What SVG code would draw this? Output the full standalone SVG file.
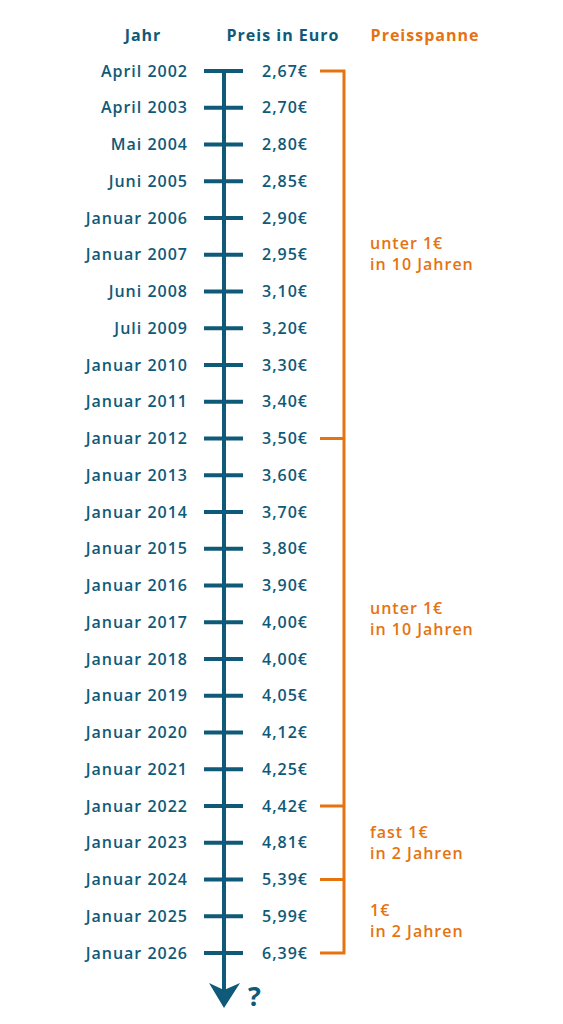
<svg xmlns="http://www.w3.org/2000/svg" width="563" height="1024" viewBox="0 0 563 1024">
<style>
text{font-family:"Open Sans","Noto Sans",sans-serif;font-size:16px;font-weight:600;letter-spacing:1px}
.t{fill:#0f5a78}
.o{fill:#e5730f}
.yr{text-anchor:end}
.h{font-weight:700}
.ax{stroke:#0f5a78;stroke-width:4;fill:none}
.br{stroke:#e5730f;stroke-width:3;fill:none}
</style>
<rect width="563" height="1024" fill="#ffffff"/>
<g id="headers">
<text class="t h" x="143" y="41" text-anchor="middle">Jahr</text>
<text class="t h" x="283" y="41" text-anchor="middle">Preis in Euro</text>
<text class="o h" x="425" y="41" text-anchor="middle">Preisspanne</text>
</g>
<g id="connectors">
<path class="ax" d="M224 71 V990"/>
<path d="M209 983 L224 1008 L240 983 L224 990 Z" fill="#0f5a78"/>
<g class="ax">
<path d="M204 71H243M204 107.75H243M204 144.5H243M204 181.25H243M204 218H243M204 254.75H243M204 291.5H243M204 328.25H243M204 365H243M204 401.75H243M204 438.5H243M204 475.25H243M204 512H243M204 548.75H243M204 585.5H243M204 622.25H243M204 659H243M204 695.75H243M204 732.5H243M204 769.25H243M204 806H243M204 842.75H243M204 879.5H243M204 916.25H243M204 953H243"/>
</g>
<path class="br" d="M320 71H344V953H320M320 438.5H344M320 806H344M320 879.5H344"/>
</g>
<g id="years">
<text class="t yr" x="188" y="76.5">April 2002</text>
<text class="t yr" x="188" y="113.25">April 2003</text>
<text class="t yr" x="188" y="150">Mai 2004</text>
<text class="t yr" x="188" y="186.75">Juni 2005</text>
<text class="t yr" x="188" y="223.5">Januar 2006</text>
<text class="t yr" x="188" y="260.25">Januar 2007</text>
<text class="t yr" x="188" y="297">Juni 2008</text>
<text class="t yr" x="188" y="333.75">Juli 2009</text>
<text class="t yr" x="188" y="370.5">Januar 2010</text>
<text class="t yr" x="188" y="407.25">Januar 2011</text>
<text class="t yr" x="188" y="444">Januar 2012</text>
<text class="t yr" x="188" y="480.75">Januar 2013</text>
<text class="t yr" x="188" y="517.5">Januar 2014</text>
<text class="t yr" x="188" y="554.25">Januar 2015</text>
<text class="t yr" x="188" y="591">Januar 2016</text>
<text class="t yr" x="188" y="627.75">Januar 2017</text>
<text class="t yr" x="188" y="664.5">Januar 2018</text>
<text class="t yr" x="188" y="701.25">Januar 2019</text>
<text class="t yr" x="188" y="738">Januar 2020</text>
<text class="t yr" x="188" y="774.75">Januar 2021</text>
<text class="t yr" x="188" y="811.5">Januar 2022</text>
<text class="t yr" x="188" y="848.25">Januar 2023</text>
<text class="t yr" x="188" y="885">Januar 2024</text>
<text class="t yr" x="188" y="921.75">Januar 2025</text>
<text class="t yr" x="188" y="958.5">Januar 2026</text>
</g>
<g id="prices">
<text class="t" x="262" y="76.5">2,67€</text>
<text class="t" x="262" y="113.25">2,70€</text>
<text class="t" x="262" y="150">2,80€</text>
<text class="t" x="262" y="186.75">2,85€</text>
<text class="t" x="262" y="223.5">2,90€</text>
<text class="t" x="262" y="260.25">2,95€</text>
<text class="t" x="262" y="297">3,10€</text>
<text class="t" x="262" y="333.75">3,20€</text>
<text class="t" x="262" y="370.5">3,30€</text>
<text class="t" x="262" y="407.25">3,40€</text>
<text class="t" x="262" y="444">3,50€</text>
<text class="t" x="262" y="480.75">3,60€</text>
<text class="t" x="262" y="517.5">3,70€</text>
<text class="t" x="262" y="554.25">3,80€</text>
<text class="t" x="262" y="591">3,90€</text>
<text class="t" x="262" y="627.75">4,00€</text>
<text class="t" x="262" y="664.5">4,00€</text>
<text class="t" x="262" y="701.25">4,05€</text>
<text class="t" x="262" y="738">4,12€</text>
<text class="t" x="262" y="774.75">4,25€</text>
<text class="t" x="262" y="811.5">4,42€</text>
<text class="t" x="262" y="848.25">4,81€</text>
<text class="t" x="262" y="885">5,39€</text>
<text class="t" x="262" y="921.75">5,99€</text>
<text class="t" x="262" y="958.5">6,39€</text>
</g>
<g id="spans">
<text class="o" x="370" y="249">unter 1€</text>
<text class="o" x="370" y="270">in 10 Jahren</text>
<text class="o" x="370" y="614">unter 1€</text>
<text class="o" x="370" y="635">in 10 Jahren</text>
<text class="o" x="370" y="838">fast 1€</text>
<text class="o" x="370" y="859">in 2 Jahren</text>
<text class="o" x="370" y="916">1€</text>
<text class="o" x="370" y="937">in 2 Jahren</text>
</g>
<g id="question">
<text class="t h" x="248" y="1006" style="font-size:27px;letter-spacing:0">?</text>
</g>
</svg>
